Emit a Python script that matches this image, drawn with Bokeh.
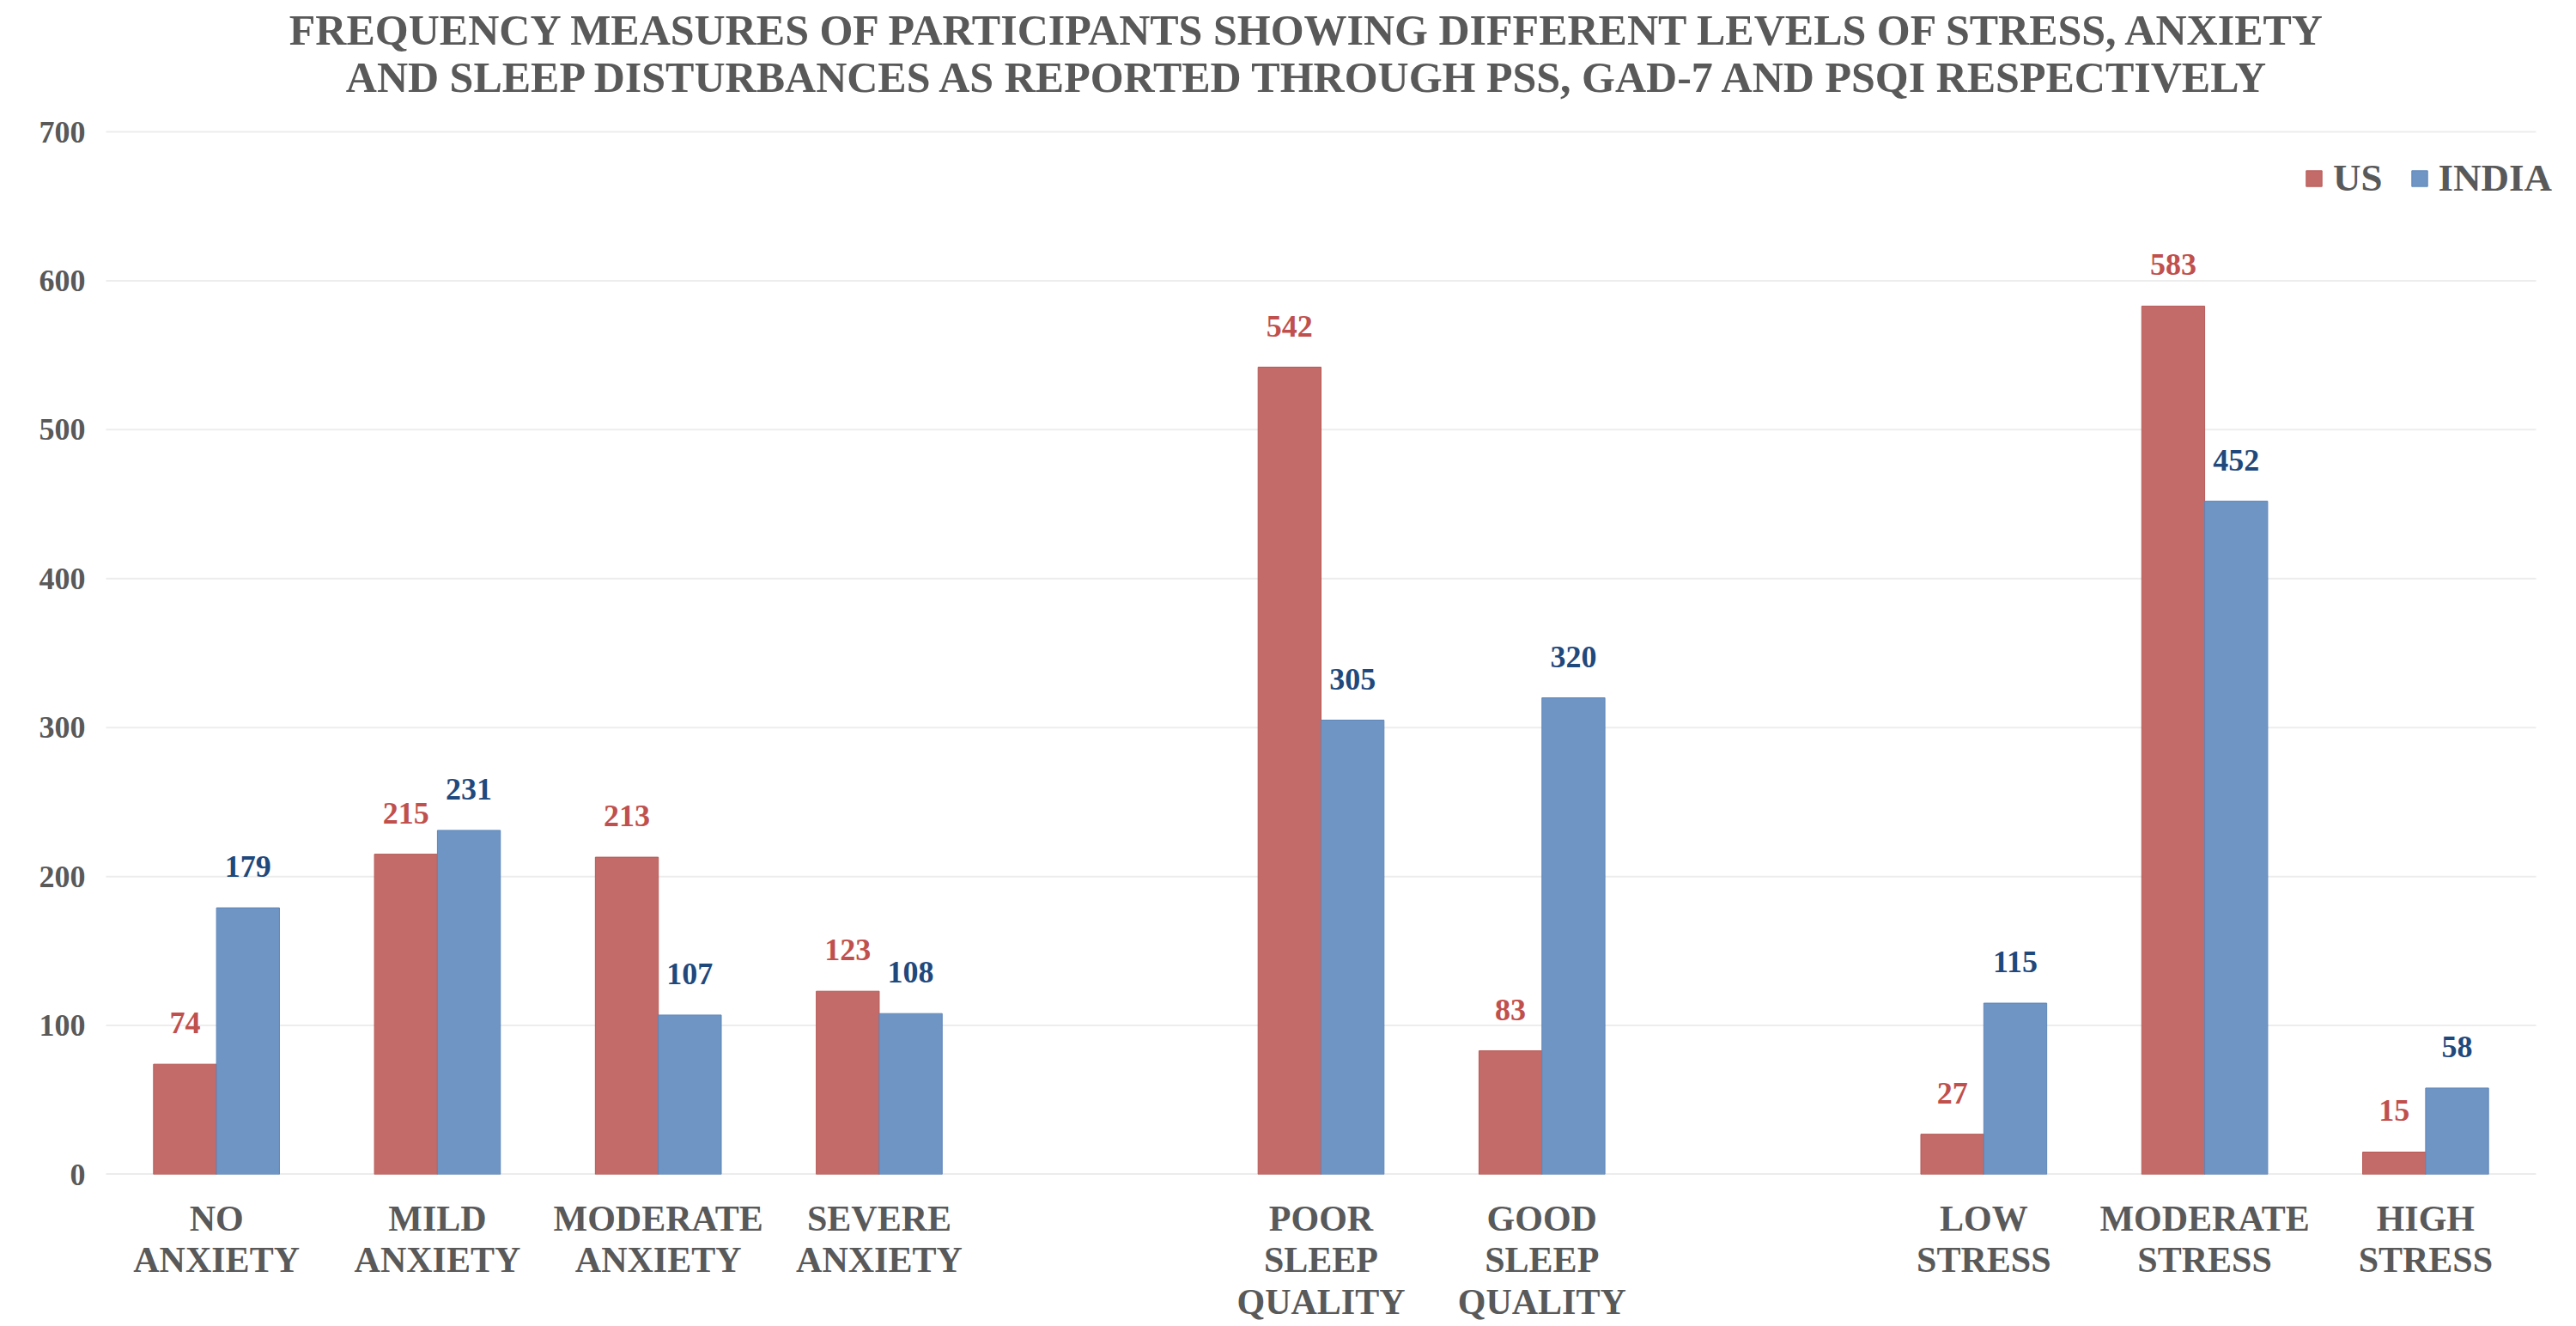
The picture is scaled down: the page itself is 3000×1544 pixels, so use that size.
from bokeh.plotting import figure
from bokeh.models import (ColumnDataSource, FactorRange, Range1d, FixedTicker, Label,
                          Legend, LegendItem)
from bokeh.transform import dodge
from bokeh.core.properties import value
from bokeh.embed import file_html
from bokeh.resources import INLINE

# ---------------- data ----------------
categories = ["NO\nANXIETY", "MILD\nANXIETY", "MODERATE\nANXIETY", "SEVERE\nANXIETY",
              "POOR\nSLEEP\nQUALITY", "GOOD\nSLEEP\nQUALITY",
              "LOW\nSTRESS", "MODERATE\nSTRESS", "HIGH\nSTRESS"]
us_values = [74, 215, 213, 123, 542, 83, 27, 583, 15]
india_values = [179, 231, 107, 108, 305, 320, 115, 452, 58]
series_names = ["US", "INDIA"]
y_ticks = [0, 100, 200, 300, 400, 500, 600, 700]
title_lines = ["FREQUENCY MEASURES OF PARTICIPANTS SHOWING DIFFERENT LEVELS OF STRESS, ANXIETY",
               "AND SLEEP DISTURBANCES AS REPORTED THROUGH PSS, GAD-7 AND PSQI RESPECTIVELY"]

# axis factors: the three groups separated by blank slots
factors = categories[:4] + [" "] + categories[4:6] + ["  "] + categories[6:]

FONT = "Liberation Serif"
GRAY = "#595959"
US_FILL, US_LINE, US_TEXT = "#C26B68", "#B85A57", "#C0504D"
IN_FILL, IN_LINE, IN_TEXT = "#6E95C4", "#5E86B9", "#1F497D"

# ---------------- layout (pixels) ----------------
SLOT_W = 2830 / len(factors)          # pixel width of one category slot
EXTRA = 22                            # extra frame room on each side (legend overhang)
FRAME_W, FRAME_H = 2830 + 2 * EXTRA, 1367
TOP_GAP = 153                         # space above the 700 gridline (holds the title)
Y_TOP = 700 * FRAME_H / (FRAME_H - TOP_GAP)

src = ColumnDataSource(dict(
    cat=categories,
    us=us_values,
    india=india_values,
    us_txt=[str(v) for v in us_values],
    india_txt=[str(v) for v in india_values],
))

p = figure(frame_width=FRAME_W, frame_height=FRAME_H,
           x_range=FactorRange(factors=factors, range_padding=EXTRA / SLOT_W,
                               range_padding_units="absolute"),
           y_range=Range1d(0, Y_TOP),
           output_backend="svg", toolbar_location=None,
           min_border_left=123 - EXTRA, min_border_right=3000 - 123 - EXTRA - FRAME_W,
           min_border_bottom=0, min_border_top=0)
p.outline_line_color = None
p.background_fill_color = "white"
p.border_fill_color = "white"

# gridlines spanning exactly the category slots
grid_src = ColumnDataSource(dict(
    x0=[factors[0]] * len(y_ticks),
    x1=[factors[-1]] * len(y_ticks),
    y=y_ticks,
    color=["#D9D9D9" if t == 0 else "#EDEDED" for t in y_ticks],
))
p.segment(x0=dodge("x0", -0.5, range=p.x_range), x1=dodge("x1", 0.5, range=p.x_range),
          y0="y", y1="y", line_color="color", line_width=2, source=grid_src)

# title: two centred lines
for line, base in zip(title_lines, [1333, 1278]):
    p.add_layout(Label(x=1402 + EXTRA, y=base, x_units="screen", y_units="screen", text=line,
                       text_align="center", text_baseline="alphabetic",
                       text_font=FONT, text_font_size="50px", text_font_style="bold",
                       text_color=GRAY))

bw = 0.285
r_us = p.vbar(x=dodge("cat", -bw / 2, range=p.x_range), top="us", width=bw, source=src,
              fill_color=US_FILL, line_color=US_LINE, line_width=1)
r_in = p.vbar(x=dodge("cat", bw / 2, range=p.x_range), top="india", width=bw, source=src,
              fill_color=IN_FILL, line_color=IN_LINE, line_width=1)

p.text(x=dodge("cat", -bw / 2, range=p.x_range), y="us", text="us_txt", source=src,
       text_align="center", text_baseline="alphabetic", y_offset=-48,
       text_font=value(FONT), text_font_style="bold", text_font_size="36px",
       text_color=US_TEXT)
p.text(x=dodge("cat", bw / 2, range=p.x_range), y="india", text="india_txt", source=src,
       text_align="center", text_baseline="alphabetic", y_offset=-48,
       text_font=value(FONT), text_font_style="bold", text_font_size="36px",
       text_color=IN_TEXT)

# axes
p.yaxis.ticker = FixedTicker(ticks=y_ticks)
p.yaxis.axis_line_color = None
p.yaxis.major_tick_line_color = None
p.yaxis.minor_tick_line_color = None
p.yaxis.major_label_standoff = 18 - EXTRA
p.yaxis.major_label_text_font = FONT
p.yaxis.major_label_text_font_style = "bold"
p.yaxis.major_label_text_font_size = "36px"
p.yaxis.major_label_text_color = GRAY

p.xaxis.axis_line_color = None
p.xaxis.major_tick_line_color = None
p.xaxis.minor_tick_line_color = None
p.xaxis.major_label_standoff = 22
p.xaxis.major_label_text_font = FONT
p.xaxis.major_label_text_font_style = "bold"
p.xaxis.major_label_text_font_size = "42px"
p.xaxis.major_label_text_color = GRAY
p.xaxis.major_label_text_line_height = 1.06

p.xgrid.grid_line_color = None
p.ygrid.grid_line_color = None

legend = Legend(items=[LegendItem(label=series_names[0], renderers=[r_us]),
                       LegendItem(label=series_names[1], renderers=[r_in])],
                orientation="horizontal", location=(2560 + EXTRA, 1134),
                glyph_width=23, glyph_height=23, label_standoff=11, spacing=31,
                padding=0, margin=0, border_line_color=None, background_fill_alpha=0,
                label_text_font=FONT, label_text_font_style="bold",
                label_text_font_size="45px", label_text_color=GRAY)
p.add_layout(legend, "center")

open("out.html", "w").write(file_html(p, INLINE))
